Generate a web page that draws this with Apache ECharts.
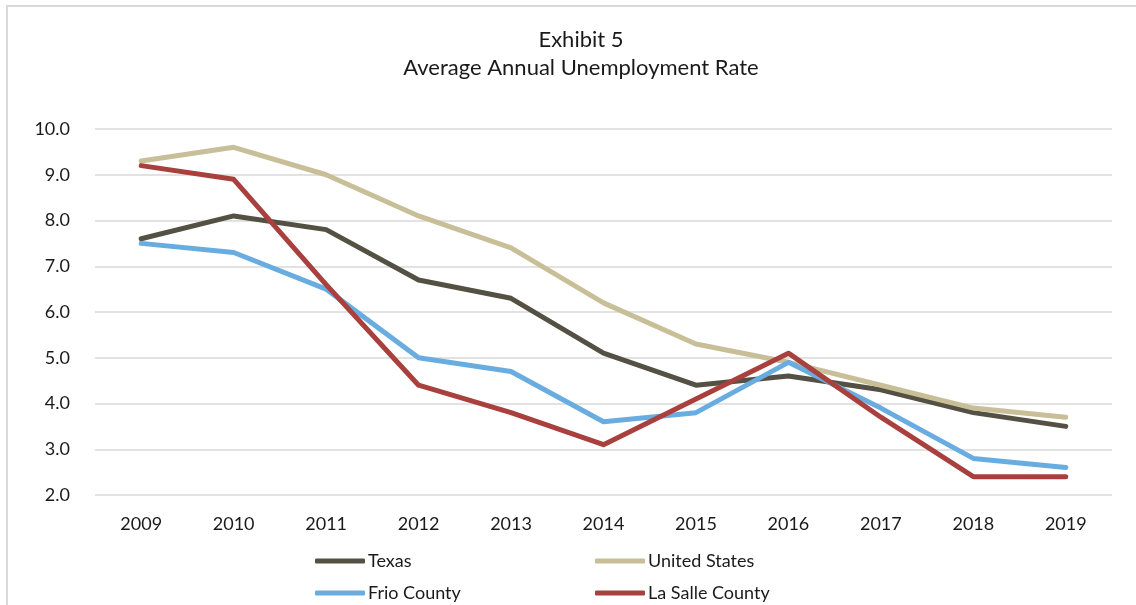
<!DOCTYPE html>
<html>
<head>
<meta charset="utf-8">
<style>
  html, body { margin: 0; padding: 0; background: #ffffff; }
  #chart { width: 1136px; height: 605px; }
</style>
<script src="https://cdn.jsdelivr.net/npm/echarts@6/dist/echarts.min.js"></script>
</head>
<body>
<div id="chart"></div>
<script>
// Average annual unemployment rate (%), 2009–2019
const years = ['2009', '2010', '2011', '2012', '2013', '2014', '2015', '2016', '2017', '2018', '2019'];
const texas = [7.6, 8.1, 7.8, 6.7, 6.3, 5.1, 4.4, 4.6, 4.3, 3.8, 3.5];
const unitedStates = [9.3, 9.6, 9.0, 8.1, 7.4, 6.2, 5.3, 4.9, 4.4, 3.9, 3.7];
const frioCounty = [7.5, 7.3, 6.5, 5.0, 4.7, 3.6, 3.8, 4.9, 3.9, 2.8, 2.6];
const laSalleCounty = [9.2, 8.9, 6.6, 4.4, 3.8, 3.1, 4.1, 5.1, 3.7, 2.4, 2.4];

const FONT = 'Lato, "Open Sans", sans-serif';
const TEXT = '#1a1a1a';

const seriesDefs = [
  { name: 'Texas', data: texas, color: '#545144' },
  { name: 'United States', data: unitedStates, color: '#c8bf99' },
  { name: 'Frio County', data: frioCounty, color: '#69ade0' },
  { name: 'La Salle County', data: laSalleCounty, color: '#a8403d' }
];

// legend slots: two columns, two rows
const legendPos = [
  { left: 315, top: 552 },
  { left: 595, top: 552 },
  { left: 315, top: 584 },
  { left: 595, top: 584 }
];

const chart = echarts.init(document.getElementById('chart'), null, { renderer: 'canvas' });

chart.setOption({
  backgroundColor: '#ffffff',
  animation: false,
  title: {
    text: 'Exhibit 5\nAverage Annual Unemployment Rate',
    left: 576,
    textAlign: 'center',
    top: 21,
    textStyle: {
      fontFamily: FONT,
      fontWeight: 'normal',
      fontSize: 22,
      lineHeight: 28,
      color: TEXT
    }
  },
  graphic: [
    {
      type: 'polyline',
      shape: { points: [[7, 605], [7, 6], [1136, 6]] },
      style: { stroke: '#d9d9d9', lineWidth: 2, fill: null }
    }
  ],
  legend: seriesDefs.map((s, i) => ({
    data: [s.name],
    left: legendPos[i].left,
    top: legendPos[i].top,
    orient: 'horizontal',
    icon: 'roundRect',
    itemWidth: 50,
    itemHeight: 5,
    itemGap: 0,
    padding: 0,
    textStyle: { fontFamily: FONT, fontSize: 18, color: TEXT, padding: [0, 0, 0, -2] }
  })),
  grid: {
    left: 95,
    right: 24,
    top: 129,
    bottom: 110,
    containLabel: false
  },
  xAxis: {
    type: 'category',
    data: years,
    boundaryGap: true,
    axisLine: { show: false },
    axisTick: { show: false },
    axisLabel: {
      fontFamily: FONT,
      fontSize: 18,
      color: TEXT,
      margin: 20
    }
  },
  yAxis: {
    type: 'value',
    min: 2,
    max: 10,
    interval: 1,
    axisLine: { show: false },
    axisTick: { show: false },
    axisLabel: {
      fontFamily: FONT,
      fontSize: 18,
      color: TEXT,
      margin: 25,
      formatter: v => v.toFixed(1)
    },
    splitLine: { lineStyle: { color: '#d9d9d9', width: 1.5 } }
  },
  series: seriesDefs.map(s => ({
    name: s.name,
    type: 'line',
    data: s.data,
    symbol: 'none',
    smooth: false,
    color: s.color,
    lineStyle: { width: 5, color: s.color, cap: 'round', join: 'round' }
  }))
});
</script>
</body>
</html>
